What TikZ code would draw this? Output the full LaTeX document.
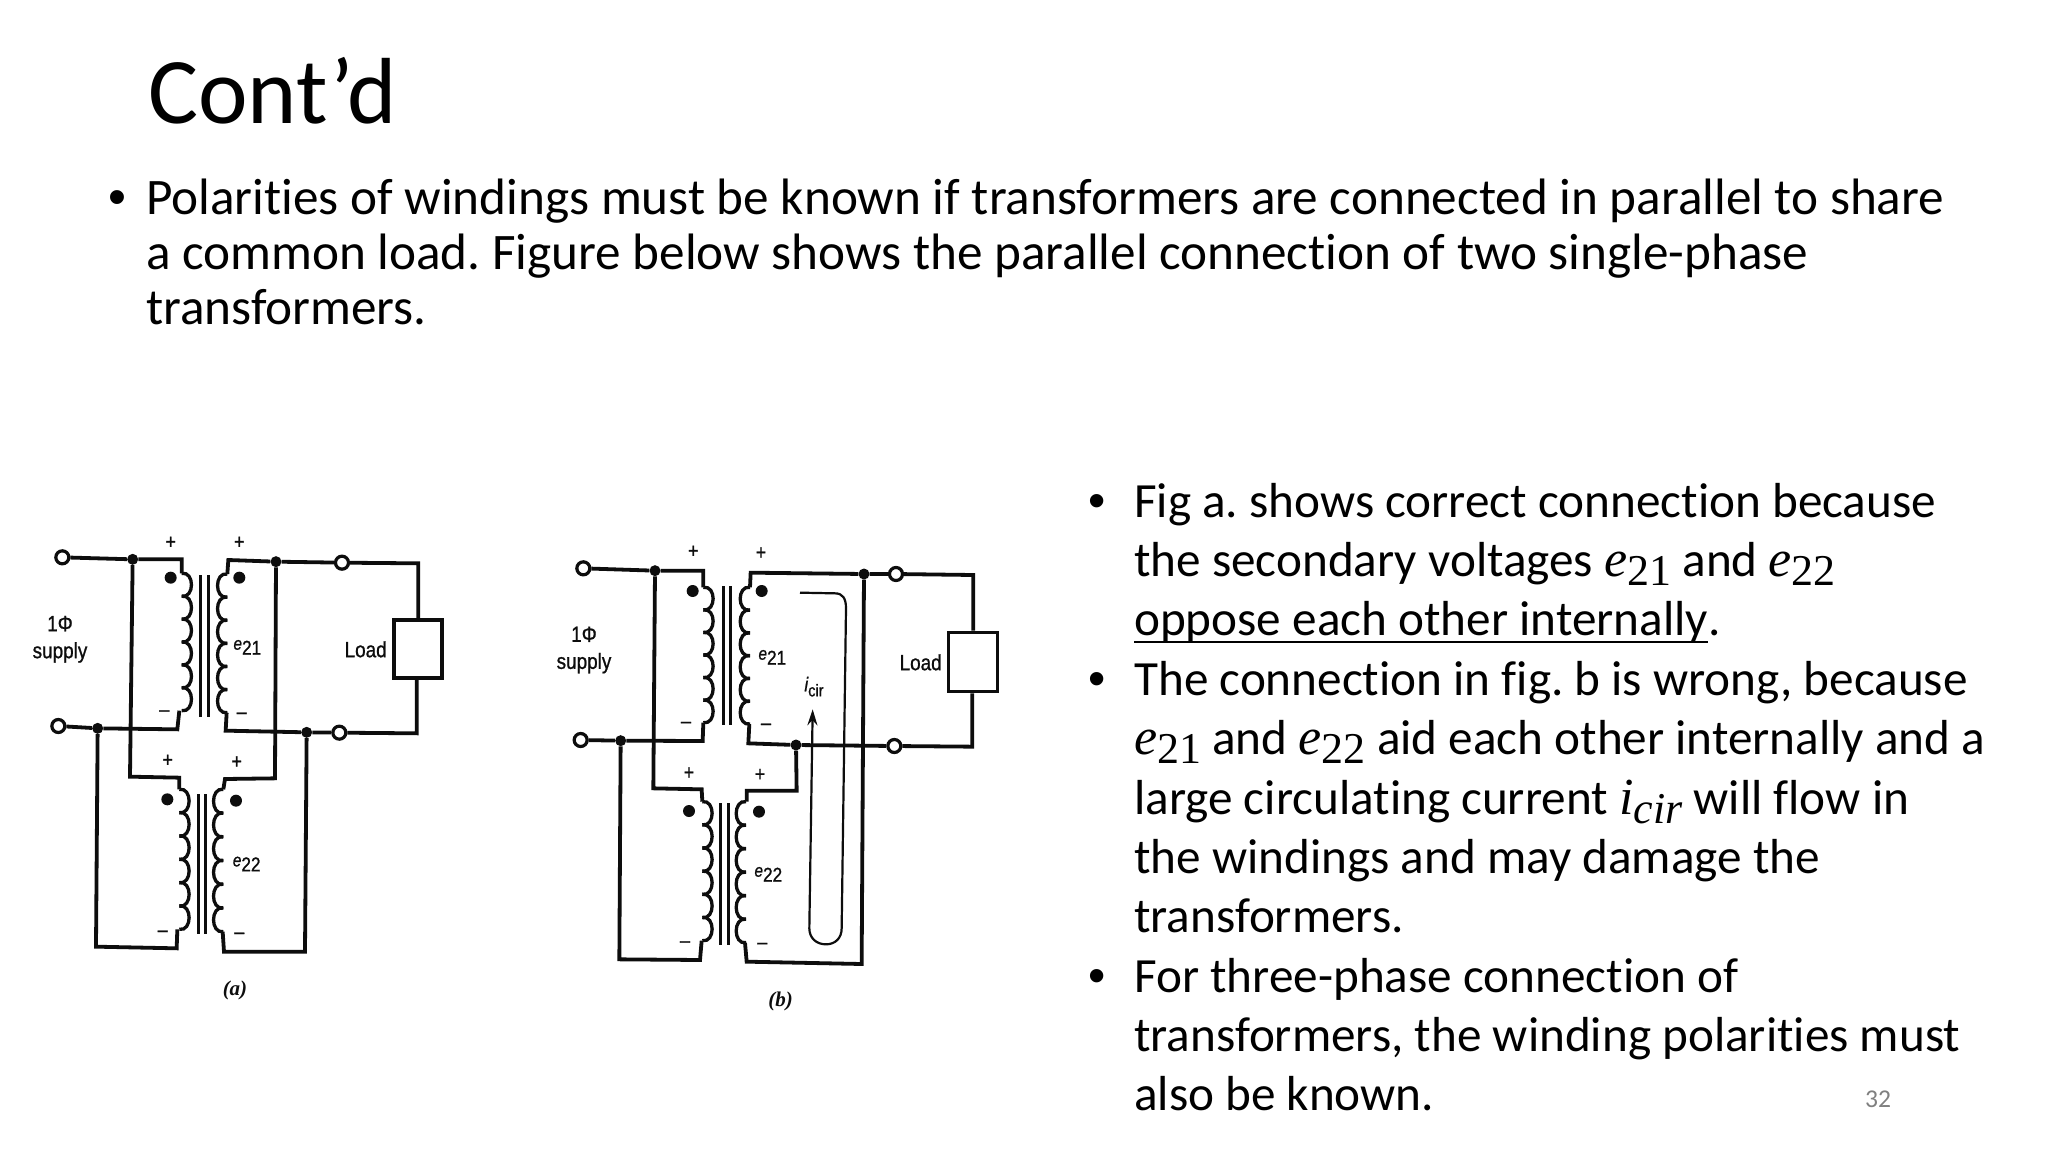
\documentclass[tikz,border=0pt]{standalone}
\usepackage{fontspec}
\setmainfont[RawFeature=-liga]{Carlito}
\newfontfamily\camb{Liberation Serif}
\newfontfamily\bulletf{Liberation Sans}
\newfontfamily\diag[FakeStretch=0.86,FakeBold=0.9]{Liberation Sans}
\usetikzlibrary{arrows.meta}
\definecolor{ink}{HTML}{0D0D0D}
\newcommand{\mvar}[2]{{\camb\itshape\fontsize{52}{52}\selectfont #1}\raisebox{-9pt}{\camb\fontsize{44}{44}\selectfont #2}}
\newcommand{\wcoil}[5]{%
  \pgfmathsetmacro\chh{(#3-#2)/#4}
  \pgfmathsetmacro\xa{#1+1.4*#5}
  \foreach \k in {1,...,#4}{
    \pgfmathsetmacro\ya{#2+(\k-1)*\chh}
    \pgfmathsetmacro\yb{\ya+\chh}
    \pgfmathsetmacro\yc{\ya-.1*\chh}
    \pgfmathsetmacro\yd{\yb+.1*\chh}
    \draw[wire,line width=3.3pt] (#1,\ya) .. controls (\xa,\yc) and (\xa,\yd) .. (#1,\yb);
  }}
\tikzset{
  wire/.style={line width=3.8pt,color=ink,line join=miter},
  corebar/.style={line width=3pt,color=ink},
  term/.style={circle,draw=ink,fill=white,line width=3.2pt,minimum size=13pt,inner sep=0pt},
  junc/.style={circle,fill=ink,minimum size=11pt,inner sep=0pt},
  pdot/.style={circle,fill=ink,minimum size=12pt,inner sep=0pt},
  loadbox/.style={draw=ink,line width=3.8pt,fill=white,inner sep=0pt},
  sym/.style={font=\diag\fontsize{21}{21}\selectfont,inner sep=0pt,text=ink},
  lab/.style={font=\diag\fontsize{22}{27}\selectfont,inner sep=0pt,text=ink,align=center},
  sublab/.style={inner sep=0pt,text=ink},
  capt/.style={inner sep=0pt,text=ink,font=\camb\itshape\bfseries\fontsize{21}{21}\selectfont},
  title/.style={font=\fontsize{93.9}{100}\selectfont,anchor=base west,inner sep=0pt},
  upper/.style={font=\fontsize{51.2}{56}\selectfont,anchor=base west,inner sep=0pt},
  lower/.style={font=\fontsize{49.2}{60}\selectfont,anchor=base west,inner sep=0pt},
  pageno/.style={font=\fontsize{25.6}{26}\selectfont,text=black!50,inner sep=0pt},
}
\newcommand{\evolt}[1]{{\diag\itshape\fontsize{18}{18}\selectfont e}\raisebox{-5pt}{\diag\fontsize{20}{20}\selectfont #1}}
\frenchspacing
\begin{document}
\begin{tikzpicture}[x=1pt,y=-1pt]
\useasboundingbox (0,0) rectangle (2048,1152);
\fill[white] (0,0) rectangle (2048,1152);

% --- text ---
\node[title] (t0) at (148,123) {Cont’d};
\node[upper] (ub) at (108.5,214.3) {\bulletf •};
\node[upper] (u1) at (146,214.3) {Polarities of windings must be known if transformers are connected in parallel to share};
\node[upper] (u2) at (146,269.3) {a common load. Figure below shows the parallel connection of two single-phase};
\node[upper] (u3) at (146,324.3) {transformers.};

\node[lower] (b1) at (1088,517) {\bulletf •};
\node[lower] (l1) at (1134,517) {Fig a. shows correct connection because};
\node[lower] (l2) at (1134,576.4) {the secondary voltages \mvar{e}{21} and \mvar{e}{22}};
\node[lower] (l3) at (1134,635.8) {oppose each other internally};
\node[lower] (l3e) at (l3.base east) {.};
\draw[line width=2.5pt,color=black] ([yshift=-6pt]l3.base west) -- ([yshift=-6pt]l3.base east);
\node[lower] (b2) at (1088,695.2) {\bulletf •};
\node[lower] (l4) at (1134,695.2) {The connection in fig. b is wrong, because};
\node[lower] (l5) at (1134,754.6) {\mvar{e}{21} and \mvar{e}{22} aid each other internally and a};
\node[lower] (l6) at (1134,814) {large circulating current \mvar{i}{\itshape cir} will flow in};
\node[lower] (l7) at (1134,873.3) {the windings and may damage the};
\node[lower] (l8) at (1134,932.6) {transformers.};
\node[lower] (b3) at (1088,992) {\bulletf •};
\node[lower] (l9) at (1134,992) {For three-phase connection of};
\node[lower] (l10) at (1134,1051.3) {transformers, the winding polarities must};
\node[lower] (l11) at (1134,1110.6) {also be known.};
\node[pageno] (pg) at (1878,1099) {32};

% --- figure (a) ---
\begin{scope}[shift={(20pt,-520pt)},x=0.33333pt,y=-0.33333pt]
  \node[term] (aT1) at (127,112) {};
  \node[term] (aT2) at (115,618) {};
  \node[term] (aT3) at (966,128) {};
  \node[term] (aT4) at (958,638) {};
  \node[junc] (aJ1) at (338,118) {};
  \node[junc] (aJ2) at (233,625) {};
  \node[junc] (aJ3) at (768,125) {};
  \node[junc] (aJ4) at (860,637) {};
  \node[loadbox,minimum width=48pt,minimum height=58pt] (aL) at (1193,388) {};
  \coordinate (aP1a) at (485,118); \coordinate (aP1b) at (485,160);
  \coordinate (aP1c) at (478,572); \coordinate (aP1d) at (472,628);
  \coordinate (aS1a) at (625,120); \coordinate (aS1b) at (622,162);
  \coordinate (aS1c) at (620,578); \coordinate (aS1d) at (617,632);
  \coordinate (aP2z) at (330,770); \coordinate (aP2a) at (478,773); \coordinate (aP2b) at (478,808);
  \coordinate (aP2c) at (472,1228); \coordinate (aP2d) at (470,1285); \coordinate (aP2e) at (228,1280);
  \coordinate (aS2z) at (765,775); \coordinate (aS2a) at (615,777); \coordinate (aS2b) at (610,808);
  \coordinate (aS2c) at (608,1235); \coordinate (aS2d) at (612,1295); \coordinate (aS2e) at (855,1295);
  \coordinate (aR1) at (1195,130); \coordinate (aR2) at (1190,640);
  \draw[wire] (aT1) -- (aJ1) -- (aP1a) -- (aP1b);
  \draw[wire] (aT2) -- (aJ2) -- (aP1d) -- (aP1c);
  \draw[wire] (aS1b) -- (aS1a) -- (aJ3) -- (aT3) -- (aR1) -- (aR1 |- aL.north);
  \draw[wire] (aS1c) -- (aS1d) -- (aJ4) -- (aT4) -- (aR2) -- (aR2 |- aL.south);
  \draw[wire] (aJ1) -- (aP2z) -- (aP2a) -- (aP2b);
  \draw[wire] (aJ2) -- (aP2e) -- (aP2d) -- (aP2c);
  \draw[wire] (aJ3) -- (aS2z) -- (aS2a) -- (aS2b);
  \draw[wire] (aJ4) -- (aS2e) -- (aS2d) -- (aS2c);
  \wcoil{485}{160}{572}{6}{28}
  \wcoil{622}{162}{578}{6}{-28}
  \wcoil{478}{808}{1228}{6}{28}
  \wcoil{610}{808}{1235}{6}{-28}
  \draw[corebar] (543,165) -- (543,590); \draw[corebar] (565,165) -- (565,590);
  \draw[corebar] (535,822) -- (535,1242); \draw[corebar] (557,822) -- (557,1242);
  \node[pdot] (aD1) at (452,173) {}; \node[pdot] (aD2) at (658,173) {};
  \node[pdot] (aD3) at (442,838) {}; \node[pdot] (aD4) at (648,842) {};
  \node[sym] (aA1) at (452,68) {+}; \node[sym] (aA2) at (658,68) {+};
  \node[sym] (aA3) at (443,722) {+}; \node[sym] (aA4) at (650,727) {+};
  \node[sym] (aM1) at (433,580) {–}; \node[sym] (aM2) at (665,587) {–};
  \node[sym] (aM3) at (428,1241) {–}; \node[sym] (aM4) at (658,1247) {–};
  \node[lab] (aSup) at (120,358) {1Φ\\supply};
  \node[sublab] (aE1) at (682,382) {\evolt{21}};
  \node[sublab] (aE2) at (680,1032) {\evolt{22}};
  \node[lab] (aLd) at (1037,388) {Load};
  \node[capt] (aCap) at (645,1412) {(a)};
\end{scope}

% --- figure (b) ---
\begin{scope}[shift={(540pt,-530pt)},x=0.33333pt,y=-0.33333pt]
  \node[term] (bT1) at (130,115) {};
  \node[term] (bT2) at (122,630) {};
  \node[term] (bT3) at (1068,132) {};
  \node[term] (bT4) at (1063,648) {};
  \node[junc] (bJ1) at (345,122) {};
  \node[junc] (bJ2) at (242,632) {};
  \node[junc] (bJ3) at (972,132) {};
  \node[junc] (bJ4) at (768,645) {};
  \node[loadbox,minimum width=49pt,minimum height=59pt] (bL) at (1299,396) {};
  \coordinate (bP1a) at (490,122); \coordinate (bP1b) at (490,172);
  \coordinate (bP1c) at (490,578); \coordinate (bP1d) at (488,633);
  \coordinate (bS1a) at (632,128); \coordinate (bS1b) at (630,172);
  \coordinate (bS1c) at (628,582); \coordinate (bS1d) at (625,640);
  \coordinate (bP2z) at (340,775); \coordinate (bP2a) at (485,778); \coordinate (bP2b) at (487,815);
  \coordinate (bP2c) at (485,1232); \coordinate (bP2d) at (480,1290); \coordinate (bP2e) at (238,1288);
  \coordinate (bS2z) at (770,782); \coordinate (bS2a) at (620,782); \coordinate (bS2b) at (620,815);
  \coordinate (bS2c) at (615,1238); \coordinate (bS2d) at (620,1295); \coordinate (bS2e) at (965,1302);
  \coordinate (bR1) at (1300,135); \coordinate (bR2) at (1297,650);
  \coordinate (bC0) at (780,188);
  \draw[wire] (bT1) -- (bJ1) -- (bP1a) -- (bP1b);
  \draw[wire] (bT2) -- (bJ2) -- (bP1d) -- (bP1c);
  \draw[wire] (bS1b) -- (bS1a) -- (bJ3) -- (bT3) -- (bR1) -- (bR1 |- bL.north);
  \draw[wire] (bS1c) -- (bS1d) -- (bJ4) -- (bT4) -- (bR2) -- (bR2 |- bL.south);
  \draw[wire] (bJ1) -- (bP2z) -- (bP2a) -- (bP2b);
  \draw[wire] (bJ2) -- (bP2e) -- (bP2d) -- (bP2c);
  \draw[wire] (bJ4) -- (bS2z) -- (bS2a) -- (bS2b);
  \draw[wire] (bJ3) -- (bS2e) -- (bS2d) -- (bS2c);
  \wcoil{490}{172}{578}{6}{28}
  \wcoil{630}{172}{582}{6}{-28}
  \wcoil{487}{815}{1232}{6}{28}
  \wcoil{618}{815}{1238}{6}{-28}
  \draw[corebar] (550,168) -- (550,585); \draw[corebar] (570,168) -- (570,585);
  \draw[corebar] (542,820) -- (542,1245); \draw[corebar] (565,820) -- (565,1245);
  \node[pdot] (bD1) at (458,183) {}; \node[pdot] (bD2) at (665,183) {};
  \node[pdot] (bD3) at (447,843) {}; \node[pdot] (bD4) at (657,845) {};
  \node[sym] (bA1) at (460,65) {+}; \node[sym] (bA2) at (663,70) {+};
  \node[sym] (bA3) at (447,730) {+}; \node[sym] (bA4) at (660,735) {+};
  \node[sym] (bM1) at (438,585) {–}; \node[sym] (bM2) at (678,590) {–};
  \node[sym] (bM3) at (435,1243) {–}; \node[sym] (bM4) at (667,1248) {–};
  \node[lab] (bSup) at (132,360) {1Φ\\supply};
  \node[sublab] (bE1) at (697,382) {\evolt{21}};
  \node[sublab] (bE2) at (685,1033) {\evolt{22}};
  \node[sublab] (bI) at (822,470) {{\diag\itshape\fontsize{20}{20}\selectfont i}\raisebox{-5pt}{\diag\fontsize{17}{17}\selectfont cir}};
  \node[lab] (bLd) at (1142,397) {Load};
  \node[capt] (bCap) at (722,1415) {(b)};
  \draw[line width=2.2pt,color=ink,-{Stealth[length=16pt,width=10pt]}]
    (bC0) -- (885,190) .. controls (908,190) and (918,205) .. (918,235)
    -- (905,1195) .. controls (905,1225) and (885,1243) .. (858,1243)
    .. controls (830,1243) and (808,1225) .. (808,1195) -- (818,538);
\end{scope}
\end{tikzpicture}
\end{document}
